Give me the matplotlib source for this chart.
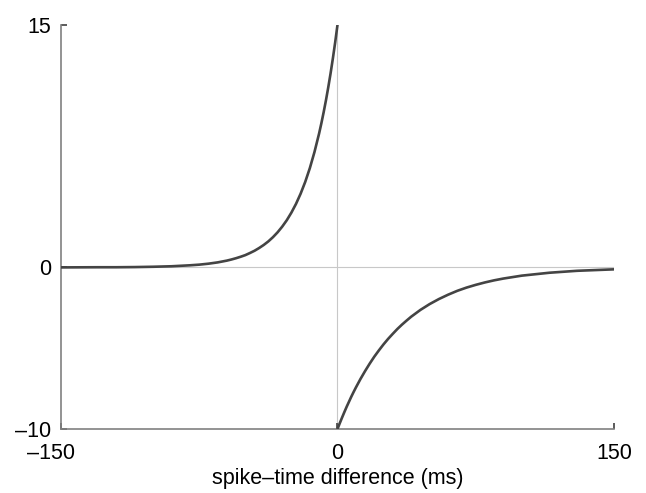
import matplotlib
matplotlib.use("Agg")
import matplotlib.pyplot as plt
import matplotlib.transforms as mtransforms

# values (ms, weight change)
t_pre = [-150, -130, -120, -110, -100, -90, -80, -75, -70, -65, -60, -57.5,
         -55, -52.5, -50, -47.5, -45, -42.5, -40, -37.5, -35, -32.5, -30,
         -27.5, -25, -22.5, -20, -17.5, -15, -12.5, -10, -8.75, -7.5, -6.25,
         -5, -3.75, -2.5, -1.25, 0]
w_pre = [0.00, 0.01, 0.01, 0.02, 0.04, 0.07, 0.13, 0.17, 0.23, 0.31, 0.42, 0.49,
         0.57, 0.66, 0.76, 0.89, 1.03, 1.20, 1.39, 1.61, 1.87, 2.17, 2.52,
         2.92, 3.39, 3.93, 4.56, 5.29, 6.14, 7.13, 8.27, 8.91, 9.60, 10.34,
         11.14, 12.00, 12.93, 13.92, 15.0]
t_post = [0, 1.25, 2.5, 3.75, 5, 6.25, 7.5, 8.75, 10, 12.5, 15, 17.5, 20,
          22.5, 25, 27.5, 30, 32.5, 35, 37.5, 40, 45, 50, 55, 60, 65, 70, 75,
          80, 85, 90, 100, 115, 130, 150]
w_post = [-10.0, -9.64, -9.29, -8.95, -8.62, -8.31, -8.00, -7.71, -7.43, -6.90,
          -6.41, -5.95, -5.52, -5.13, -4.76, -4.42, -4.11, -3.81, -3.54, -3.29,
          -3.05, -2.63, -2.27, -1.96, -1.69, -1.45, -1.25, -1.08, -0.93, -0.80,
          -0.69, -0.51, -0.33, -0.21, -0.12]

xticks = [-150, 0, 150]
xtick_labels = ["\u2013150", "0", "150"]
yticks = [-10, 0, 15]
ytick_labels = ["\u201310", "0", "15"]
xlabel = "spike\u2013time difference (ms)"

plt.rcParams["font.family"] = ["Liberation Sans", "DejaVu Sans"]

fig = plt.figure(figsize=(6.46, 4.93), dpi=100)
ax = fig.add_axes([0.0944, 0.1298, 0.856, 0.8195])

ax.axhline(0, color="#c8c8c8", lw=0.8, zorder=1)
ax.axvline(0, color="#c8c8c8", lw=0.8, zorder=1)

line_kw = dict(color="#444444", lw=1.9, solid_capstyle="round",
               solid_joinstyle="round", zorder=3)
ax.plot(t_pre, w_pre, **line_kw)
ax.plot(t_post, w_post, **line_kw)

ax.set_xlim(-150, 150)
ax.set_ylim(-10, 15)

for side in ("top", "right"):
    ax.spines[side].set_visible(False)
for side in ("left", "bottom"):
    ax.spines[side].set_color("#808080")
    ax.spines[side].set_linewidth(1.2)

ax.set_xticks(xticks)
ax.set_xticklabels(xtick_labels)
ax.set_yticks(yticks)
ax.set_yticklabels(ytick_labels)
ax.tick_params(direction="in", length=4, width=1.2, color="#404040",
               labelsize=15.5, labelcolor="black")
ax.tick_params(axis="x", pad=10)
ax.tick_params(axis="y", pad=7)

# first x label sits a little left of its tick in the reference
lab = ax.get_xticklabels()[0]
lab.set_transform(lab.get_transform() +
                  mtransforms.ScaledTranslation(-10 / 100, 0, fig.dpi_scale_trans))

ax.set_xlabel(xlabel, fontsize=15.5, labelpad=3)

fig.savefig("out.png", dpi=100)
